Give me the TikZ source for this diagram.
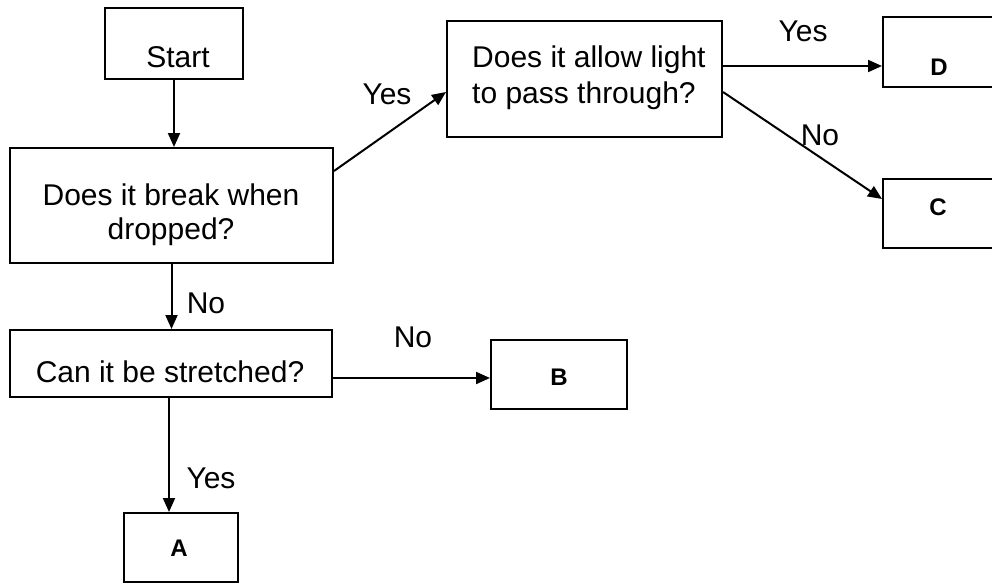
\documentclass[tikz,border=0pt]{standalone}
\usepackage{fontspec}
\setmainfont{Liberation Sans}
\usetikzlibrary{arrows.meta,calc}
\begin{document}
\begin{tikzpicture}[x=1pt,y=-1pt,
  box/.style={draw, line width=2pt, inner sep=0pt, rectangle},
  txt/.style={font=\fontsize{30}{34}\selectfont, inner sep=0pt},
  letr/.style={font=\fontsize{24}{28}\selectfont\bfseries, inner sep=0pt},
  lab/.style={font=\fontsize{30}{34}\selectfont, inner sep=0pt},
  conn/.style={line width=2pt, -{Triangle[length=14pt,width=12pt]}},
]
\useasboundingbox (0,0) rectangle (992,583);
\clip (0,0) rectangle (992,583);

% boxes
\node[box, minimum width=138pt, minimum height=71pt] (start) at (174,43.5) {};
\node[box, minimum width=323pt, minimum height=115pt] (brk) at (171.5,205.5) {};
\node[box, minimum width=275pt, minimum height=116pt] (light) at (584.5,79) {};
\node[box, minimum width=127pt, minimum height=70pt] (dbox) at (946.5,52) {};
\node[box, minimum width=127pt, minimum height=69pt] (cbox) at (946.5,213.5) {};
\node[box, minimum width=322pt, minimum height=67pt] (stretch) at (171,363.5) {};
\node[box, minimum width=136pt, minimum height=69pt] (bbox) at (559,374.5) {};
\node[box, minimum width=114pt, minimum height=69pt] (abox) at (181,547.5) {};

% box texts
\node[txt] (tstart) at (178,57) {Start};
\node[txt, align=center] (tbrk) at (171,215) {Does it break when\\dropped?};
\node[txt, align=left, anchor=west, font=\fontsize{30}{36}\selectfont] (tlight) at (472,78) {Does it allow light\\to pass through?};
\node[txt] (tstretch) at (170,372) {Can it be stretched?};
\node[letr] (td) at (939,67) {D};
\node[letr] (tc) at (938,207) {C};
\node[letr] (tb) at (559,377) {B};
\node[letr] (ta) at (179,548) {A};

% connectors
\draw[conn] (start.south) -- (start.south |- brk.north);
\coordinate (y1s) at ($(brk.north east)+(0,24)$);
\coordinate (y1e) at ($(light.north west)+(0,72)$);
\draw[conn] (y1s) -- (y1e);
\coordinate (y2s) at ($(light.north east)+(0,46)$);
\coordinate (y2e) at ($(dbox.north west)+(0,50)$);
\draw[conn] (y2s) -- (y2e);
\coordinate (n1s) at ($(light.north east)+(0,72)$);
\coordinate (n1e) at ($(cbox.north west)+(0,21)$);
\draw[conn] (n1s) -- (n1e);
\draw[conn] (brk.south) -- (brk.south |- stretch.north);
\coordinate (n3s) at ($(stretch.north east)+(0,49)$);
\coordinate (n3e) at ($(bbox.north west)+(0,39)$);
\draw[conn] (n3s) -- (n3e);
\coordinate (y3s) at ($(stretch.south)+(-2,0)$);
\draw[conn] (y3s) -- (y3s |- abox.north);

% labels
\node[lab] (ly1) at (387,94) {Yes};
\node[lab] (ly2) at (803,31) {Yes};
\node[lab] (ln1) at (820,135) {No};
\node[lab] (ln2) at (206,303) {No};
\node[lab] (ln3) at (413,337) {No};
\node[lab] (ly3) at (211,478) {Yes};
\end{tikzpicture}
\end{document}
